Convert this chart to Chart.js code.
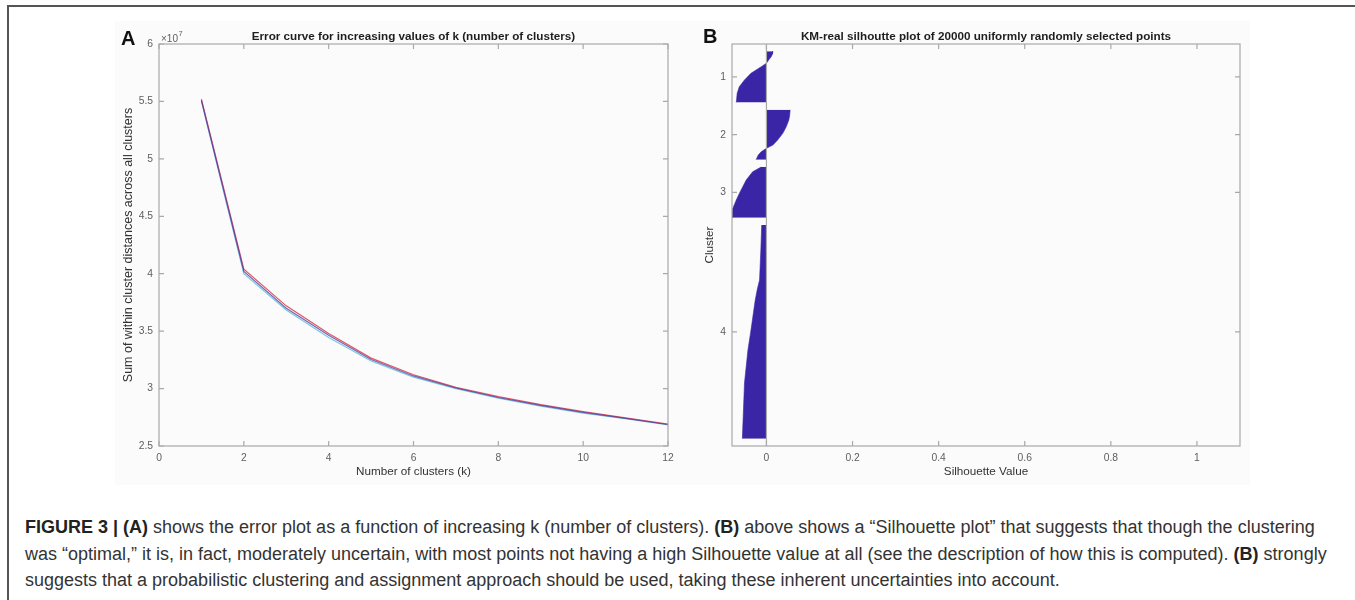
<!DOCTYPE html>
<html>
<head>
<meta charset="utf-8">
<script src="https://cdn.jsdelivr.net/npm/chart.js@4.4.0/dist/chart.umd.min.js"></script>
<style>
html,body{margin:0;padding:0;background:#fff;}
#page{position:relative;width:1355px;height:600px;overflow:hidden;font-family:"Liberation Sans",Arial,Helvetica,sans-serif;}
#frame{position:absolute;left:7px;top:5px;width:1400px;height:700px;border-top:2px solid #555;border-left:2px solid #555;}
#plotbg{position:absolute;left:115px;top:21px;width:1135px;height:464px;background:#fbfbfb;}
#wrapA{position:absolute;left:100px;top:20px;width:590px;height:470px;}
#wrapB{position:absolute;left:690px;top:20px;width:560px;height:470px;}
.panel{position:absolute;font-weight:bold;font-size:20px;line-height:20px;color:#111;}
#caption{position:absolute;left:25px;top:514px;font-size:18px;line-height:26.5px;color:#333;white-space:nowrap;}
#caption b{color:#222;}
</style>
</head>
<body>
<div id="page">
  <div id="frame"></div>
  <div id="plotbg"></div>
  <div id="wrapA"><canvas id="chartA" width="590" height="470"></canvas></div>
  <div id="wrapB"><canvas id="chartB" width="560" height="470"></canvas></div>
  <div class="panel" style="left:121px;top:28px;">A</div>
  <div class="panel" style="left:703px;top:26px;">B</div>
  <div id="caption"><b>FIGURE 3 | (A)</b> shows the error plot as a function of increasing k (number of clusters). <b>(B)</b> above shows a “Silhouette plot” that suggests that though the clustering<br>was “optimal,” it is, in fact, moderately uncertain, with most points not having a high Silhouette value at all (see the description of how this is computed). <b>(B)</b> strongly<br>suggests that a probabilistic clustering and assignment approach should be used, taking these inherent uncertainties into account.</div>
</div>
<script>
// ---------- Panel A data ----------
const kValues   = [1, 2, 3, 4, 5, 6, 7, 8, 9, 10, 11, 12];
const errorRed  = [5.52, 4.04, 3.72, 3.48, 3.265, 3.12, 3.01, 2.93, 2.86, 2.80, 2.745, 2.69];
const errorBlue = [5.51, 4.02, 3.70, 3.465, 3.253, 3.11, 3.005, 2.922, 2.853, 2.793, 2.741, 2.687];
const errorCyan = [5.50, 4.00, 3.685, 3.445, 3.24, 3.10, 3.00, 2.917, 2.847, 2.786, 2.737, 2.684];
const errorXTicks = [0, 2, 4, 6, 8, 10, 12];
const errorYTicks = [2.5, 3, 3.5, 4, 4.5, 5, 5.5, 6];

// ---------- Panel B data (row index of sorted points, silhouette value) ----------
const clusterLabels = ['1', '2', '3', '4'];
const c1Rows = [400, 550, 700, 850, 1050, 1240, 1605, 1970, 2335, 2700, 3200];
const c1Sil  = [0.015, 0.014, 0.011, 0.006, 0.0, -0.012, -0.036, -0.051, -0.063, -0.068, -0.070];
const c2Rows = [3600, 3900, 4160, 4525, 4890, 5254, 5528, 5710, 5893, 6075, 6330];
const c2Sil  = [0.055, 0.054, 0.052, 0.046, 0.038, 0.026, 0.015, 0.0, -0.012, -0.019, -0.024];
const c3Rows = [6730, 6990, 7443, 7810, 8175, 8538, 8993, 9300, 9510];
const c3Sil  = [-0.012, -0.032, -0.047, -0.055, -0.063, -0.070, -0.078, -0.080, -0.080];
const c4Rows = [9910, 11274, 12916, 13400, 14010, 15835, 16747, 18554, 20400, 21600];
const c4Sil  = [-0.011, -0.013, -0.016, -0.021, -0.026, -0.037, -0.043, -0.051, -0.054, -0.056];
const silXTicks = [0, 0.2, 0.4, 0.6, 0.8, 1];
const rowRange = [0, 22000];
const silRange = [-0.08, 1.1];

const FONT = '"Liberation Sans", Arial, Helvetica, sans-serif';
const AXIS = '#a9a9a9';
const TICKTXT = '#5e5e5e';
const TITLETXT = '#1e1e1e';
const BAR = '#3a25a6';

const matlabAxes = {
  id: 'matlabAxes',
  afterDatasetsDraw(chart, args, opts) {
    const {ctx, chartArea: a} = chart;
    const x = chart.scales.x, y = chart.scales.y;
    ctx.save();
    ctx.strokeStyle = AXIS;
    ctx.lineWidth = 1.2;
    if (opts.zeroLine) {
      const zx = x.getPixelForValue(0);
      ctx.beginPath(); ctx.moveTo(zx, a.top); ctx.lineTo(zx, a.bottom); ctx.stroke();
    }
    ctx.strokeRect(a.left, a.top, a.right - a.left, a.bottom - a.top);
    const L = 5;
    ctx.beginPath();
    x.ticks.forEach(t => {
      const px = x.getPixelForValue(t.value);
      ctx.moveTo(px, a.bottom); ctx.lineTo(px, a.bottom - L);
      ctx.moveTo(px, a.top); ctx.lineTo(px, a.top + L);
    });
    y.ticks.forEach(t => {
      const py = y.getPixelForValue(t.value);
      ctx.moveTo(a.left, py); ctx.lineTo(a.left + L, py);
      ctx.moveTo(a.right, py); ctx.lineTo(a.right - L, py);
    });
    ctx.stroke();
    if (opts.exponent) {
      ctx.fillStyle = TICKTXT;
      ctx.textAlign = 'left';
      ctx.textBaseline = 'alphabetic';
      ctx.font = '10px ' + FONT;
      ctx.fillText('×10', a.left + 2, a.top - 2);
      const w = ctx.measureText('×10').width;
      ctx.font = '7.5px ' + FONT;
      ctx.fillText('7', a.left + 2.5 + w, a.top - 8);
    }
    ctx.restore();
  }
};

function axisCommon(extra) {
  return Object.assign({
    type: 'linear',
    grid: {display: false, drawTicks: false},
    border: {display: false},
  }, extra);
}

// ---------- Chart A ----------
new Chart(document.getElementById('chartA'), {
  type: 'line',
  data: {
    datasets: [
      {label: 'run 1', data: kValues.map((k, i) => ({x: k, y: errorRed[i]})), borderColor: '#e05564', order: 1},
      {label: 'run 2', data: kValues.map((k, i) => ({x: k, y: errorBlue[i]})), borderColor: 'rgba(70,55,160,0.75)', order: 0},
      {label: 'run 3', data: kValues.map((k, i) => ({x: k, y: errorCyan[i]})), borderColor: '#7cc7dc', order: 2},
    ].map(d => Object.assign(d, {borderWidth: 1.2, pointRadius: 0, tension: 0, fill: false}))
  },
  options: {
    responsive: false, animation: false, devicePixelRatio: 1,
    layout: {padding: {left: 0, right: 22, top: 0, bottom: 0}},
    plugins: {
      legend: {display: false}, tooltip: {enabled: false},
      title: {display: true, fullSize: false, text: 'Error curve for increasing values of k (number of clusters)',
        color: TITLETXT, font: {family: FONT, size: 11.7, weight: 'bold'}, padding: {top: 9.5, bottom: 0.46}},
      matlabAxes: {exponent: true}
    },
    scales: {
      x: axisCommon({min: 0, max: 12, position: 'bottom',
        afterBuildTicks: s => { s.ticks = errorXTicks.map(v => ({value: v})); },
        afterFit: s => { s.height = 44; },
        ticks: {color: TICKTXT, font: {family: FONT, size: 10.3}, padding: 6, maxRotation: 0, callback: v => String(v)},
        title: {display: true, text: 'Number of clusters (k)', color: '#333', font: {family: FONT, size: 11.7}, padding: {top: 4, bottom: 11}}
      }),
      y: axisCommon({min: 2.5, max: 6, position: 'left',
        afterBuildTicks: s => { s.ticks = errorYTicks.map(v => ({value: v})); },
        afterFit: s => { s.width = 59; },
        ticks: {color: TICKTXT, font: {family: FONT, size: 10.3}, padding: 6, callback: v => String(v)},
        title: {display: true, text: 'Sum of within cluster distances across all clusters', color: '#333', font: {family: FONT, size: 12.5}, padding: {top: 21.5, bottom: 4}}
      })
    }
  },
  plugins: [matlabAxes]
});

// ---------- Chart B ----------
const clusters = [[c1Rows, c1Sil], [c2Rows, c2Sil], [c3Rows, c3Sil], [c4Rows, c4Sil]];
const clusterTicks = clusters.map(([r]) => (r[0] + r[r.length - 1]) / 2);

new Chart(document.getElementById('chartB'), {
  type: 'line',
  data: {
    datasets: clusters.map(([rows, sil], ci) => ({
      label: clusterLabels[ci],
      data: rows.map((r, i) => ({x: sil[i], y: r})),
      fill: 'origin', backgroundColor: BAR, borderColor: BAR, borderWidth: 0.6,
      pointRadius: 0, tension: 0
    }))
  },
  options: {
    indexAxis: 'y',
    responsive: false, animation: false, devicePixelRatio: 1,
    layout: {padding: {left: 0, right: 10, top: 0, bottom: 0}},
    plugins: {
      legend: {display: false}, tooltip: {enabled: false},
      title: {display: true, fullSize: false, text: 'KM-real silhoutte plot of 20000 uniformly randomly selected points',
        color: TITLETXT, font: {family: FONT, size: 11.7, weight: 'bold'}, padding: {top: 9.5, bottom: 0.46}},
      matlabAxes: {zeroLine: true}
    },
    scales: {
      x: axisCommon({min: silRange[0], max: silRange[1], position: 'bottom',
        afterBuildTicks: s => { s.ticks = silXTicks.map(v => ({value: v})); },
        afterFit: s => { s.height = 44; },
        ticks: {color: TICKTXT, font: {family: FONT, size: 10.3}, padding: 6, maxRotation: 0, callback: v => String(v)},
        title: {display: true, text: 'Silhouette Value', color: '#333', font: {family: FONT, size: 11.7}, padding: {top: 4, bottom: 11}}
      }),
      y: axisCommon({min: rowRange[0], max: rowRange[1], reverse: true, position: 'left',
        afterBuildTicks: s => { s.ticks = clusterTicks.map(v => ({value: v})); },
        afterFit: s => { s.width = 42; },
        ticks: {color: TICKTXT, font: {family: FONT, size: 10.3}, padding: 6, autoSkip: false, callback: (v, i) => clusterLabels[i]},
        title: {display: true, text: 'Cluster', color: '#333', font: {family: FONT, size: 11.7}, padding: {top: 12.7, bottom: 4}}
      })
    }
  },
  plugins: [matlabAxes]
});
</script>
</body>
</html>
